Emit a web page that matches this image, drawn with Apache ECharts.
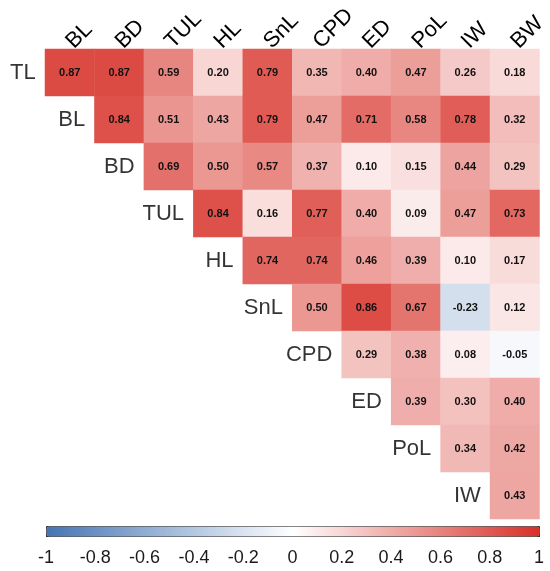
<!DOCTYPE html>
<html>
<head>
<meta charset="utf-8">
<script src="https://cdn.jsdelivr.net/npm/echarts@6/dist/echarts.min.js"></script>
<style>
html, body {margin:0; padding:0; background:#fff;}
#main {width:550px; height:571px;}
</style>
</head>
<body>
<div id="main"></div>
<script type="text/javascript">
// row / column names of the upper triangle
var rowNames = ['TL', 'BL', 'BD', 'TUL', 'HL', 'SnL', 'CPD', 'ED', 'PoL', 'IW'];
var colNames = ['BL', 'BD', 'TUL', 'HL', 'SnL', 'CPD', 'ED', 'PoL', 'IW', 'BW'];

// correlations, each row starts at its diagonal column
var rTL  = [0.87, 0.87, 0.59, 0.20, 0.79, 0.35, 0.40, 0.47, 0.26, 0.18];
var rBL  = [0.84, 0.51, 0.43, 0.79, 0.47, 0.71, 0.58, 0.78, 0.32];
var rBD  = [0.69, 0.50, 0.57, 0.37, 0.10, 0.15, 0.44, 0.29];
var rTUL = [0.84, 0.16, 0.77, 0.40, 0.09, 0.47, 0.73];
var rHL  = [0.74, 0.74, 0.46, 0.39, 0.10, 0.17];
var rSnL = [0.50, 0.86, 0.67, -0.23, 0.12];
var rCPD = [0.29, 0.38, 0.08, -0.05];
var rED  = [0.39, 0.30, 0.40];
var rPoL = [0.34, 0.42];
var rIW  = [0.43];

var colorTicks = [-1, -0.8, -0.6, -0.4, -0.2, 0, 0.2, 0.4, 0.6, 0.8, 1];

var rows = [rTL, rBL, rBD, rTUL, rHL, rSnL, rCPD, rED, rPoL, rIW];
var cells = [];
var rowMarks = [];
for (var i = 0; i < rows.length; i++) {
	for (var k = 0; k < rows[i].length; k++) {
		cells.push([i + k, i, rows[i][k]]);
	}
	rowMarks.push([i, i]);
}

var font = '"Liberation Sans", Arial, sans-serif';
var dom = document.getElementById('main');
var myChart = echarts.init(dom);
var option = {
	animation: false,
	textStyle: {fontFamily: font},
	grid: [
		{left: 45, top: 49, width: 494.5, height: 470},
		{left: 46, top: 526, width: 493, height: 11}
	],
	xAxis: [
		{
			type: 'category', gridIndex: 0, data: colNames, position: 'top',
			axisLine: {show: false}, axisTick: {show: false}, splitLine: {show: false},
			axisLabel: {rotate: -45, margin: 4, fontSize: 22, color: '#000', fontFamily: font}
		},
		{
			type: 'value', gridIndex: 1, min: colorTicks[0], max: colorTicks[colorTicks.length - 1], interval: 0.2,
			axisLine: {show: false}, splitLine: {show: false},
			axisTick: {show: true, inside: true, length: 3, lineStyle: {color: '#333'}},
			axisLabel: {margin: 12, fontSize: 18, color: '#1a1a1a', fontFamily: font,
				formatter: function (v) { return String(Math.round(v * 10) / 10); }}
		}
	],
	yAxis: [
		{
			type: 'category', gridIndex: 0, data: rowNames, inverse: true,
			axisLine: {show: false}, axisTick: {show: false}, axisLabel: {show: false}, splitLine: {show: false}
		},
		{type: 'value', gridIndex: 1, show: false, min: 0, max: 1}
	],
	visualMap: {
		type: 'continuous', seriesIndex: 0, dimension: 2, min: -1, max: 1,
		orient: 'horizontal', left: 46, top: 526, itemWidth: 10, itemHeight: 493,
		calculable: false, text: null, showLabel: false, padding: 0,
		borderColor: '#333', borderWidth: 1,
		inRange: {color: ['#4575B4', '#FFFFFF', '#D73027']}
	},
	series: [
		{
			type: 'heatmap', xAxisIndex: 0, yAxisIndex: 0, data: cells,
			itemStyle: {borderWidth: 0},
			emphasis: {disabled: true},
			label: {
				show: true, fontSize: 11, fontWeight: 'bold', color: '#111', fontFamily: font,
				formatter: function (p) { return p.value[2].toFixed(2); }
			}
		},
		{
			type: 'scatter', xAxisIndex: 0, yAxisIndex: 0, data: rowMarks, symbolSize: 0,
			silent: true,
			label: {
				show: true, position: 'left', distance: 34, fontSize: 22, color: '#000', fontFamily: font,
				formatter: function (p) { return rowNames[p.value[1]]; }
			}
		}
	]
};
myChart.setOption(option, true);
</script>
</body>
</html>
